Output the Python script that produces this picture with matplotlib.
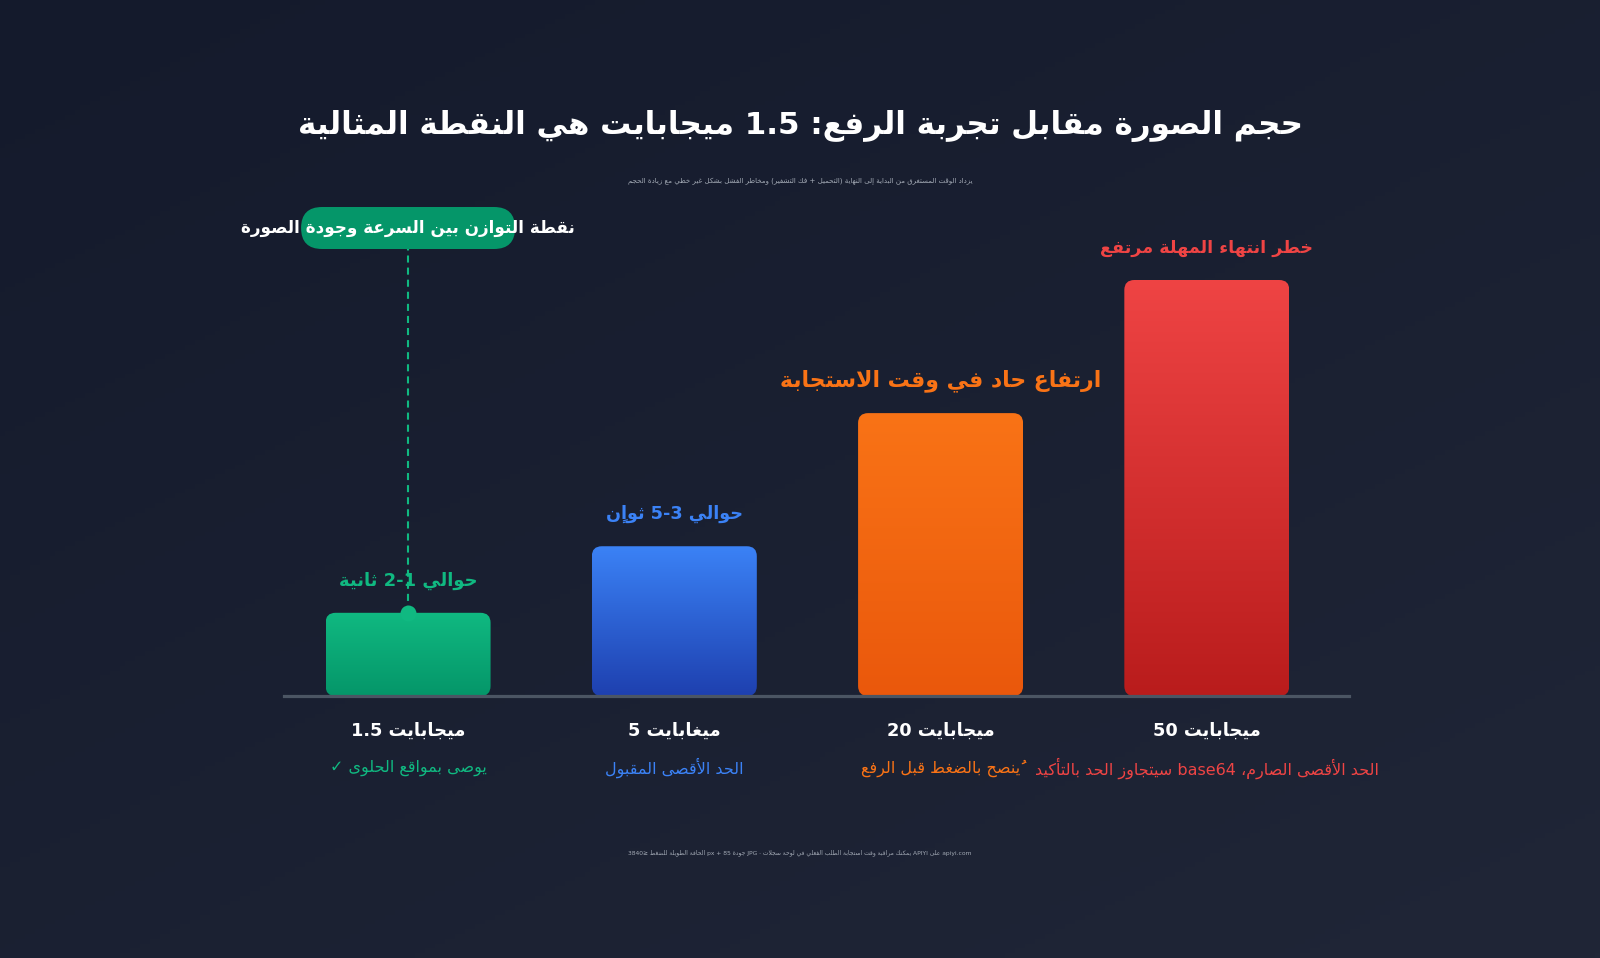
import numpy as np
import matplotlib
matplotlib.use("Agg")
import matplotlib.pyplot as plt
from matplotlib.patches import FancyBboxPatch
from matplotlib.colors import to_rgb

# ---- data -----------------------------------------------------------------
sizes = ["1.5 ميجابايت", "5 ميغابايت", "20 ميجابايت", "50 ميجابايت"]
notes = ["يوصى بمواقع الحلوى ✓", "الحد الأقصى المقبول", "يُنصح بالضغط قبل الرفع",
         "الحد الأقصى الصارم، base64 سيتجاوز الحد بالتأكيد"]
values = [20, 36, 68, 100]
bar_labels = ["حوالي 1-2 ثانية", "حوالي 3-5 ثوانٍ", "ارتفاع حاد في وقت الاستجابة",
              "خطر انتهاء المهلة مرتفع"]
label_sizes = [12.9, 12.7, 15.8, 12.6]
top_colors = ["#10b981", "#3b82f6", "#f97316", "#ef4444"]
bottom_colors = ["#059669", "#1e40af", "#ea580c", "#b91c1c"]

title = "حجم الصورة مقابل تجربة الرفع: 1.5 ميجابايت هي النقطة المثالية"
subtitle = ("يزداد الوقت المستغرق من البداية إلى النهاية (التحميل + فك التشفير) "
            "ومخاطر الفشل بشكل غير خطي مع زيادة الحجم")
callout = "نقطة التوازن بين السرعة وجودة الصورة"
footer = ("apiyi.com على APIYI يمكنك مراقبة وقت استجابة الطلب الفعلي في لوحة سجلات · "
          "JPG جودة 85 + px الحافة الطويلة للضغط ≤3840")

# ---- minimal arabic shaping + bidi (matplotlib has none) -------------------
RIGHT = {0x0622: 0xFE81, 0x0623: 0xFE83, 0x0624: 0xFE85, 0x0625: 0xFE87,
         0x0627: 0xFE8D, 0x0629: 0xFE93, 0x062F: 0xFEA9, 0x0630: 0xFEAB,
         0x0631: 0xFEAD, 0x0632: 0xFEAF, 0x0648: 0xFEED}
DUAL = {0x0626: 0xFE89, 0x0628: 0xFE8F, 0x062A: 0xFE95, 0x062B: 0xFE99,
        0x062C: 0xFE9D, 0x062D: 0xFEA1, 0x062E: 0xFEA5, 0x0633: 0xFEB1,
        0x0634: 0xFEB5, 0x0635: 0xFEB9, 0x0636: 0xFEBD, 0x0637: 0xFEC1,
        0x0638: 0xFEC5, 0x0639: 0xFEC9, 0x063A: 0xFECD, 0x0641: 0xFED1,
        0x0642: 0xFED5, 0x0643: 0xFED9, 0x0644: 0xFEDD, 0x0645: 0xFEE1,
        0x0646: 0xFEE5, 0x0647: 0xFEE9, 0x064A: 0xFEF1}
FORMS = {k: (v, v + 1, v, v + 1) for k, v in RIGHT.items()}
FORMS.update({k: (v, v + 1, v + 2, v + 3) for k, v in DUAL.items()})
FORMS[0x0649] = (0xFEEF, 0xFEF0, 0xFBE8, 0xFBE9)
FORMS[0x0621] = (0xFE80,) * 4
LAM_ALEF = {0x0622: 0xFEF5, 0x0623: 0xFEF7, 0x0625: 0xFEF9, 0x0627: 0xFEFB}
MIRROR = {"(": ")", ")": "(", "[": "]", "]": "[", "≤": "≥", "≥": "≤"}


def is_mark(c):
    o = ord(c)
    return 0x064B <= o <= 0x065F or o == 0x0670 or 0x0610 <= o <= 0x061A


def jt(c):
    o = ord(c)
    if o in DUAL or o in (0x0649, 0x0640):
        return "D"
    if o in RIGHT:
        return "R"
    return "U"


def shape(text):
    ch = list(text)
    n = len(ch)
    out = []
    i = 0
    while i < n:
        o = ord(ch[i])
        if o not in FORMS:
            out.append(ch[i])
            i += 1
            continue
        p = i - 1
        while p >= 0 and is_mark(ch[p]):
            p -= 1
        q = i + 1
        while q < n and is_mark(ch[q]):
            q += 1
        prev_j = p >= 0 and jt(ch[p]) == "D" and jt(ch[i]) != "U"
        if o == 0x0644 and q < n and ord(ch[q]) in LAM_ALEF:
            out.append(chr(LAM_ALEF[ord(ch[q])] + (1 if prev_j else 0)))
            out.extend(ch[i + 1:q])
            i = q + 1
            continue
        next_j = jt(ch[i]) == "D" and q < n and jt(ch[q]) in ("D", "R")
        f = FORMS[o]
        g = f[3] if (prev_j and next_j) else f[1] if prev_j else f[2] if next_j else f[0]
        out.append(chr(g))
        i += 1
    return "".join(out)


def bidi(text, rtl=True):
    cl = []
    for c in text:
        if is_mark(c) and cl:
            cl[-1] += c
        else:
            cl.append(c)
    types = []
    for c in cl:
        o = ord(c[0])
        if 0x0600 <= o <= 0x06FF or 0xFB50 <= o <= 0xFDFF or 0xFE70 <= o <= 0xFEFF:
            types.append("R")
        elif c[0].isascii() and c[0].isalpha():
            types.append("L")
        elif c[0].isdigit():
            types.append("EN" if rtl else "L")
        else:
            types.append("N")
    for i in range(1, len(cl) - 1):
        if cl[i] in ".," and types[i - 1] == types[i + 1] == "EN":
            types[i] = "EN"
    e = "R" if rtl else "L"
    last = e
    for i, t in enumerate(types):
        if t in ("L", "R"):
            last = t
        elif t == "EN" and last == "L":
            types[i] = "L"
    i = 0
    while i < len(types):
        if types[i] != "N":
            i += 1
            continue
        j = i
        while j < len(types) and types[j] == "N":
            j += 1
        a = e if i == 0 else ("R" if types[i - 1] in ("R", "EN") else "L")
        b = e if j == len(types) else ("R" if types[j] in ("R", "EN") else "L")
        for k in range(i, j):
            types[k] = a if a == b else e
        i = j
    if rtl:
        lv = [1 if t == "R" else 2 for t in types]
    else:
        lv = [1 if t == "R" else 0 for t in types]
    cl = [MIRROR.get(c, c) if l % 2 else c for c, l in zip(cl, lv)]
    for lvl in range(max(lv + [0]), 0, -1):
        i = 0
        while i < len(cl):
            if lv[i] < lvl:
                i += 1
                continue
            j = i
            while j < len(cl) and lv[j] >= lvl:
                j += 1
            cl[i:j] = cl[i:j][::-1]
            lv[i:j] = lv[i:j][::-1]
            i = j
    return "".join(cl)


def ar(text, rtl=True):
    return bidi(shape(text), rtl)


# ---- figure -----------------------------------------------------------------
plt.rcParams["font.family"] = ["DejaVu Sans"]
W, H = 1600, 958
fig = plt.figure(figsize=(W / 100, H / 100), dpi=100)

bg = fig.add_axes([0, 0, 1, 1], zorder=-5)
yy, xx = np.mgrid[0:1:200j, 0:1:320j]
t = (0.45 * xx + 0.55 * yy)[..., None]
c0 = np.array([20, 26, 44]) / 255
c1 = np.array([32, 38, 55]) / 255
bg.imshow(c0 * (1 - t) + c1 * t, extent=[0, 1, 0, 1], aspect="auto", origin="upper")
bg.set_axis_off()

ax = fig.add_axes([284 / W, 1 - 696 / H, 1065 / W, 416 / H])
ax.set_facecolor("none")
ax.set_xlim(-0.466, 3.534)
ax.set_ylim(0, 100)
for s in ax.spines.values():
    s.set_visible(False)
ax.set_xticks([])
ax.set_yticks([])

ppx = ax.transData.transform((1, 0))[0] - ax.transData.transform((0, 0))[0]
ppy = ax.transData.transform((0, 1))[1] - ax.transData.transform((0, 0))[1]
bw = 165 / ppx
grad = np.linspace(0, 1, 256)[:, None, None]

for i, v in enumerate(values):
    x0 = i - bw / 2
    patch = FancyBboxPatch((x0, 0), bw, v, boxstyle=f"round,pad=0,rounding_size={10 / ppx}",
                           mutation_aspect=ppx / ppy, fc="none", ec="none", zorder=2)
    ax.add_patch(patch)
    top = np.array(to_rgb(top_colors[i]))
    bot = np.array(to_rgb(bottom_colors[i]))
    img = top * (1 - grad) + bot * grad
    im = ax.imshow(img, extent=[x0, x0 + bw, 0, v], aspect="auto", zorder=2)
    im.set_clip_path(patch)
    ax.annotate(ar(bar_labels[i]), xy=(i, v), xytext=(0, 32), textcoords="offset pixels",
                ha="center", va="center", color=top_colors[i], fontsize=label_sizes[i],
                fontweight="bold", annotation_clip=False)
    ax.annotate(ar(sizes[i], rtl=False), xy=(i, 0), xytext=(0, -35),
                textcoords="offset pixels", ha="center", va="center", color="white",
                fontsize=12.8, fontweight="bold", annotation_clip=False)
    ax.annotate(ar(notes[i]), xy=(i, 0), xytext=(0, -72), textcoords="offset pixels",
                ha="center", va="center", color=top_colors[i], fontsize=11.5,
                annotation_clip=False)

ax.set_xlim(-0.466, 3.534)
ax.set_ylim(0, 100)
ax.axhline(0, color="#4b5563", lw=2.3, zorder=3, clip_on=False)

# callout for the sweet spot
cy = (696 - 228) / ppy
ph = 42 / ppy
pw = 214 / ppx
pill = FancyBboxPatch((-pw / 2, cy - ph / 2), pw, ph,
                      boxstyle=f"round,pad=0,rounding_size={21 / ppx}",
                      mutation_aspect=ppx / ppy, fc="#059669", ec="none",
                      zorder=4, clip_on=False)
ax.add_patch(pill)
ax.plot([0, 0], [values[0], cy - ph / 2], color="#10b981", lw=1.5,
        ls=(0, (3.4, 2.4)), zorder=3, clip_on=False)
ax.plot([0], [values[0]], "o", ms=11.5, color="#10b981", mec="none", zorder=3,
        clip_on=False)
ax.text(0, cy, ar(callout), ha="center", va="center", color="white", fontsize=12.1,
        fontweight="bold", zorder=5, clip_on=False)

fig.text(0.5, 1 - 126 / H, ar(title), ha="center", va="center", color="white",
         fontsize=22.3, fontweight="bold")
fig.text(0.5, 1 - 181 / H, ar(subtitle), ha="center", va="center", color="#a3aab5",
         fontsize=5.0)
fig.text(0.5, 1 - 853 / H, ar(footer), ha="center", va="center", color="#a3aab5",
         fontsize=4.3)

fig.savefig("out.png", dpi=100)
